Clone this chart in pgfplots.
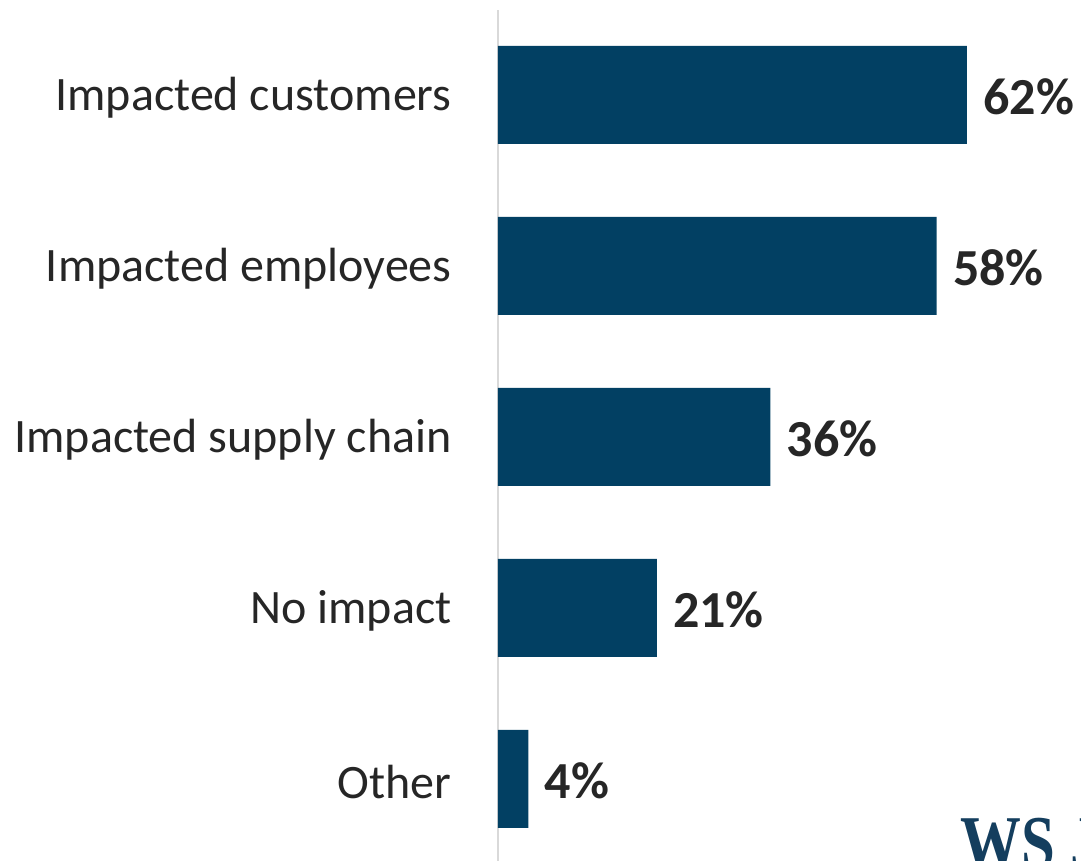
\documentclass[border=0pt]{standalone}
\usepackage{pgfplots}
\pgfplotsset{compat=1.18}
\usepackage{fontspec}
\setmainfont{Carlito}
\newfontfamily\logofont{Liberation Serif}
\definecolor{barblue}{RGB}{2,64,99}
\definecolor{txt}{RGB}{38,38,38}
\definecolor{axgray}{RGB}{217,217,217}
\definecolor{logoblue}{RGB}{20,62,94}
\begin{document}
\begin{tikzpicture}
% 1 px of the reference = 0.5pt; axis corner at px (498,861)
\useasboundingbox (-249pt,0pt) rectangle (291.5pt,430.5pt);
\begin{axis}[
  at={(0pt,0pt)}, anchor=south west,
  scale only axis,
  width=234.5pt, height=425.5pt,
  xbar, bar width=49pt,
  xmin=0, xmax=62,
  ymin=-0.48, ymax=4.497,
  hide x axis,
  axis y line*=left,
  y axis line style={draw=axgray, line width=1pt, -},
  ytick={0,1,2,3,4},
  yticklabels={Other, No impact, Impacted supply chain, Impacted employees, Impacted customers},
  major tick length=0pt,
  yticklabel style={font=\fontsize{24}{29}\selectfont, text=txt, anchor=east, inner sep=0pt, xshift=-23pt, yshift=-1.5pt},
  /pgf/number format/assume math mode=true,
  nodes near coords={\pgfmathprintnumber{\pgfplotspointmeta}\%},
  nodes near coords style={font=\bfseries\fontsize{26}{30}\selectfont, text=txt, anchor=west, inner sep=0pt, xshift=8pt, yshift=-1pt},
  point meta=x,
  clip=false,
]
\addplot[fill=barblue, draw=none] coordinates {
  (4,0) (21,1) (36,2) (58,3) (62,4)};
\end{axis}
\node[anchor=north west, inner sep=0pt, text=logoblue, font=\logofont\bfseries\fontsize{38}{38}\selectfont, xscale=0.8] at (231pt,21.5pt) {WS J};
\end{tikzpicture}
\end{document}
